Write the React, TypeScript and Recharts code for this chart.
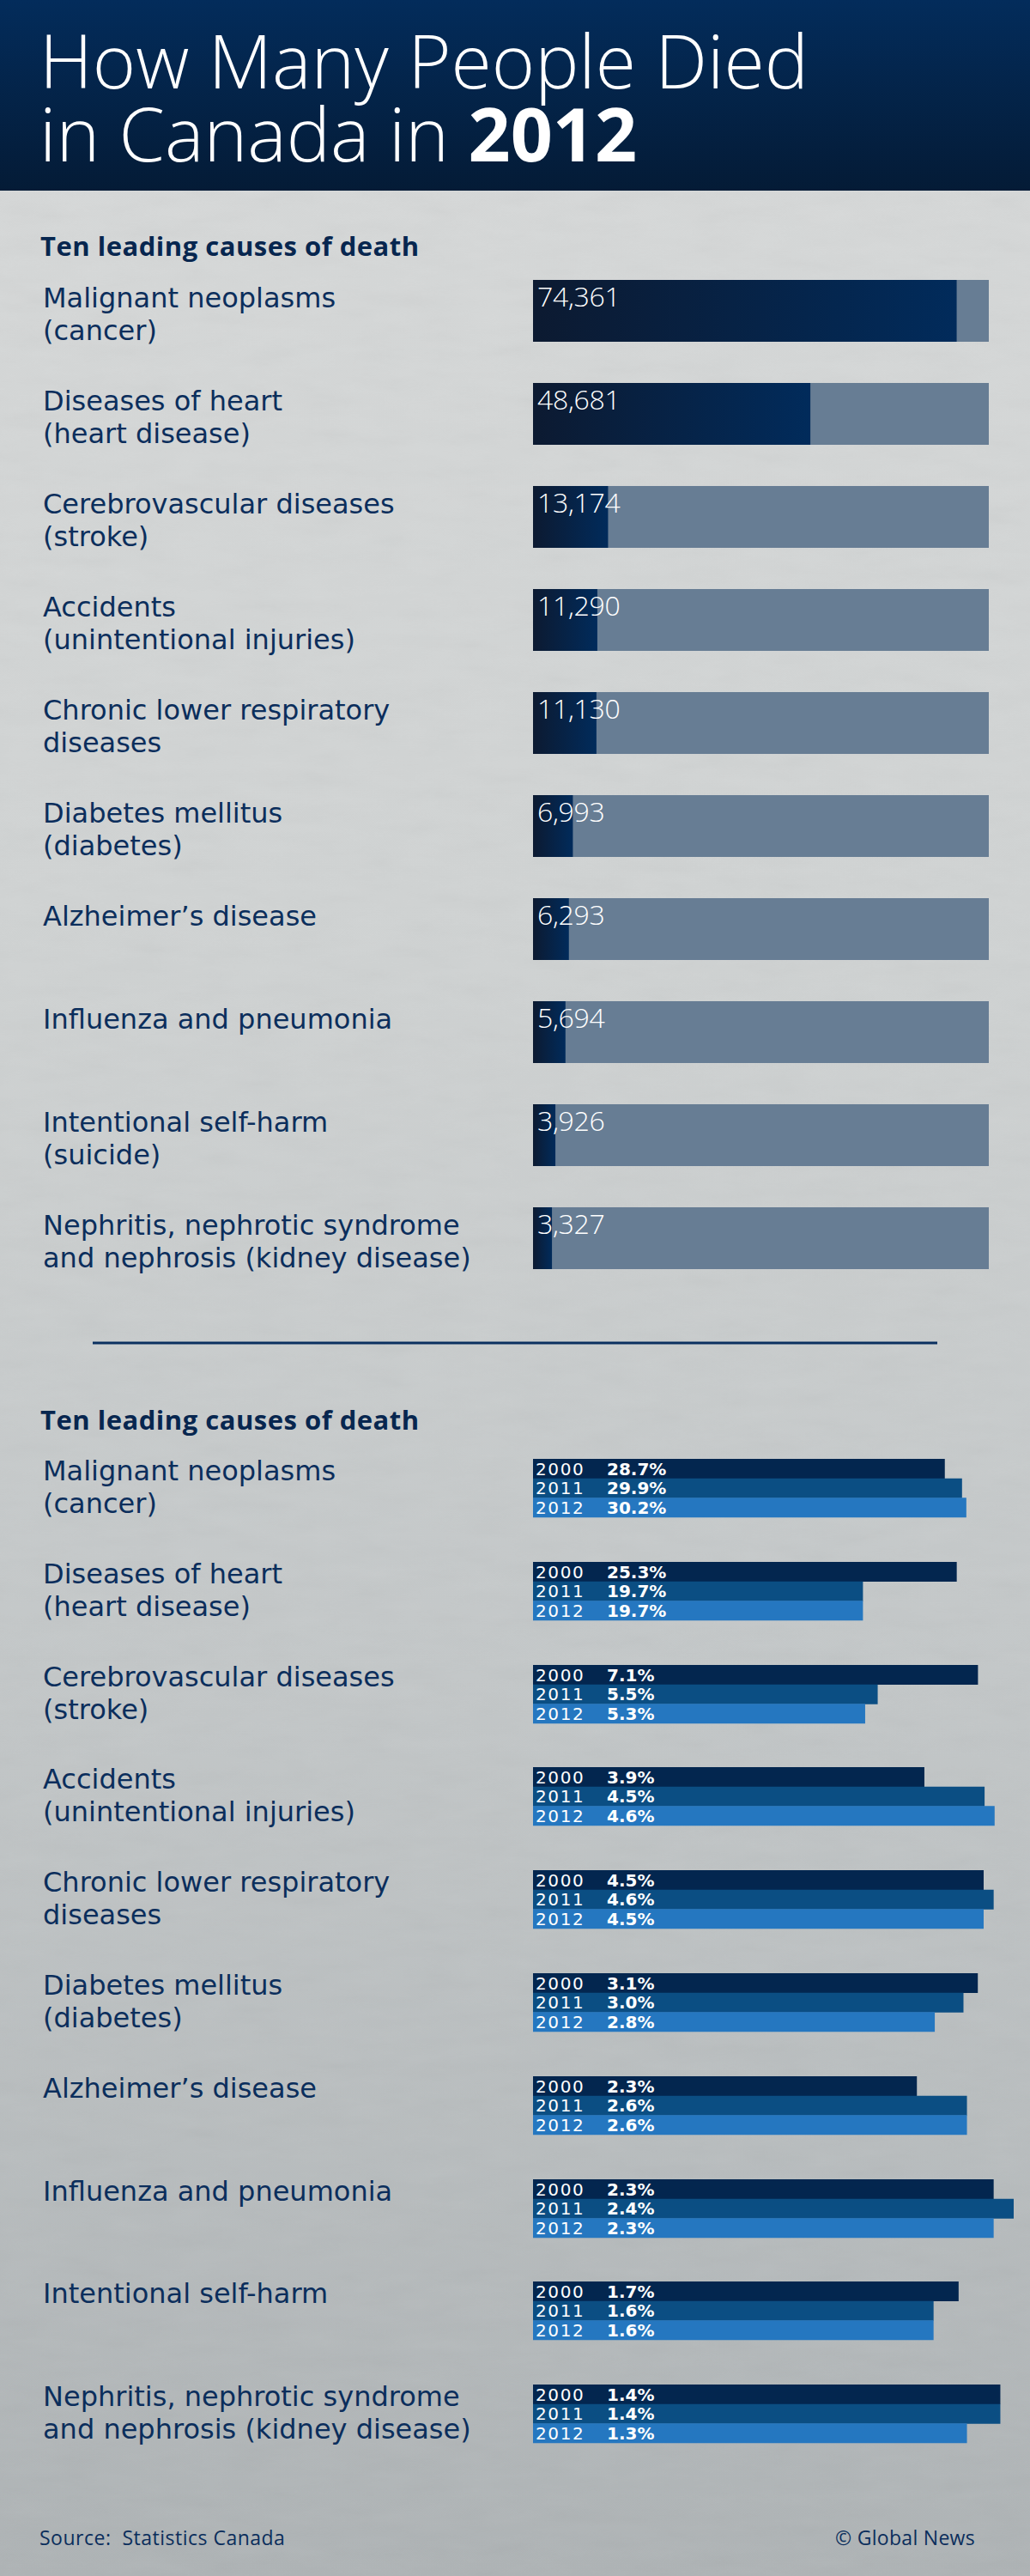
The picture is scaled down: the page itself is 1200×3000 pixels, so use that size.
import React from 'react';
import { BarChart, Bar, XAxis, YAxis, LabelList, Cell } from 'recharts';

// ---------- data ----------
const deathCauses = [
  'Malignant neoplasms|(cancer)',
  'Diseases of heart|(heart disease)',
  'Cerebrovascular diseases|(stroke)',
  'Accidents|(unintentional injuries)',
  'Chronic lower respiratory|diseases',
  'Diabetes mellitus|(diabetes)',
  'Alzheimer’s disease',
  'Influenza and pneumonia',
  'Intentional self-harm|(suicide)',
  'Nephritis, nephrotic syndrome|and nephrosis (kidney disease)',
];
const deaths2012 = [74361, 48681, 13174, 11290, 11130, 6993, 6293, 5694, 3926, 3327];
const deathsAxisMax = 80000;

const shareCauses = [
  'Malignant neoplasms|(cancer)',
  'Diseases of heart|(heart disease)',
  'Cerebrovascular diseases|(stroke)',
  'Accidents|(unintentional injuries)',
  'Chronic lower respiratory|diseases',
  'Diabetes mellitus|(diabetes)',
  'Alzheimer’s disease',
  'Influenza and pneumonia',
  'Intentional self-harm',
  'Nephritis, nephrotic syndrome|and nephrosis (kidney disease)',
];
const shareYears = ['2000', '2011', '2012'];
const share2000 = [28.7, 25.3, 7.1, 3.9, 4.5, 3.1, 2.3, 2.3, 1.7, 1.4];
const share2011 = [29.9, 19.7, 5.5, 4.5, 4.6, 3.0, 2.6, 2.4, 1.6, 1.4];
const share2012 = [30.2, 19.7, 5.3, 4.6, 4.5, 2.8, 2.6, 2.3, 1.6, 1.3];
// each group in the original is drawn on its own scale
const shareAxisMax = [33.5, 28.7, 7.67, 4.79, 4.8, 3.35, 2.88, 2.4, 1.92, 1.44];

const titleLine1 = 'How Many People Died';
const titleLine2 = 'in Canada in ';
const titleYear = '2012';
const sectionTitle = 'Ten leading causes of death';
const sourceText = 'Source:\u00A0\u00A0Statistics Canada';
const creditText = '© Global News';

// ---------- styles ----------
const FONT = '"Open Sans", "Noto Sans", sans-serif';
const LABEL_FONT = '"DejaVu Sans", "Open Sans", sans-serif';
const NAVY = '#0b2e5c';
const yearColors = ['#03264f', '#0b4e83', '#2577c0'];

const deathData = deathCauses.map((c, i) => ({ cause: c, deaths: deaths2012[i] }));
const shareSeries = [share2000, share2011, share2012];

const CauseTick = (props: any) => {
  const { y, payload } = props;
  const lines = String(payload.value).split('|');
  return (
    <text x={50} y={y - 4} fill={NAVY} fontSize={32} fontFamily={LABEL_FONT}>
      {lines.map((l, k) => (
        <tspan key={k} x={50} dy={k === 0 ? 0 : 38}>
          {l}
        </tspan>
      ))}
    </text>
  );
};

const DeathLabel = (props: any) => {
  const { x, y, value } = props;
  return (
    <text x={x + 5} y={y + 31} fill="#ffffff" fontSize={32} fontWeight={300} fontFamily={FONT} letterSpacing={-0.3}>
      {Number(value).toLocaleString('en-US')}
    </text>
  );
};

const ShareLabel = (props: any) => {
  const { x, y, value, index } = props;
  return (
    <text x={x + 3} y={y + 18.5} fill="#ffffff" fontSize={20} fontFamily={LABEL_FONT}>
      <tspan letterSpacing={1.6}>{shareYears[index]}</tspan>
      <tspan x={x + 86} fontWeight={700}>
        {Number(value).toFixed(1)}%
      </tspan>
    </text>
  );
};

const SHARE_TOP = 1699;
const SHARE_PITCH = 119.8;
const SHARE_PAD = 8;

export default function App() {
  return (
    <div
      style={{
        position: 'absolute',
        left: 0,
        top: 0,
        width: 1200,
        height: 3000,
        overflow: 'hidden',
        background: 'linear-gradient(180deg, #d7d9d9 0%, #d0d3d3 35%, #c3c7c8 65%, #aeb3b5 100%)',
        fontFamily: FONT,
      }}
    >
      <svg width={1200} height={3000} style={{ position: 'absolute', left: 0, top: 0 }}>
        <defs>
          <linearGradient id="titleGrad" x1="0" y1="0" x2="0" y2="1">
            <stop offset="0%" stopColor="#032c5b" />
            <stop offset="100%" stopColor="#041b36" />
          </linearGradient>
          <filter id="concrete">
            <feTurbulence type="fractalNoise" baseFrequency="0.015 0.05" numOctaves="4" seed="3" />
            <feColorMatrix type="saturate" values="0" />
          </filter>
        </defs>
        <rect x={0} y={222} width={1200} height={2778} filter="url(#concrete)" opacity={0.07} />
        <rect x={0} y={0} width={1200} height={222} fill="url(#titleGrad)" />
        <text x={46} y={103} fill="#ffffff" fontSize={86} fontWeight={300} fontFamily={FONT} letterSpacing={0}>
          <tspan x={46}>{titleLine1}</tspan>
          <tspan x={46} dy={85}>
            {titleLine2}
          </tspan>
          <tspan fontWeight={700}>{titleYear}</tspan>
        </text>

        <text x={47} y={298} fill="#07264f" fontSize={31} fontWeight={700} fontFamily={FONT} letterSpacing={0.5}>
          {sectionTitle}
        </text>

        <line x1={108} x2={1092} y1={1564} y2={1564} stroke="#0b3060" strokeWidth={3} />

        <text x={47} y={1665} fill="#07264f" fontSize={31} fontWeight={700} fontFamily={FONT} letterSpacing={0.5}>
          {sectionTitle}
        </text>

        {shareCauses.map((c, i) => (
          <text
            key={c}
            x={50}
            y={SHARE_TOP + i * SHARE_PITCH + 25}
            fill={NAVY}
            fontSize={32}
            fontFamily={LABEL_FONT}
          >
            {c.split('|').map((l, k) => (
              <tspan key={k} x={50} dy={k === 0 ? 0 : 38}>
                {l}
              </tspan>
            ))}
          </text>
        ))}

        <text x={46} y={2964} fill={NAVY} fontSize={23} fontFamily={FONT} letterSpacing={0.5}>
          {sourceText}
        </text>
        <text x={1136} y={2964} fill={NAVY} fontSize={23} fontFamily={FONT} letterSpacing={0.3} textAnchor="end">
          {creditText}
        </text>
      </svg>

      <div style={{ position: 'absolute', left: 0, top: 302 }}>
        <BarChart
          width={1200}
          height={1200}
          data={deathData}
          layout="vertical"
          margin={{ top: 0, right: 48, bottom: 0, left: 0 }}
        >
          <defs>
            <linearGradient id="deathGrad" x1="0" y1="0" x2="1" y2="0">
              <stop offset="0%" stopColor="#0c1a31" />
              <stop offset="100%" stopColor="#012b5b" />
            </linearGradient>
          </defs>
          <XAxis type="number" domain={[0, deathsAxisMax]} hide />
          <YAxis
            type="category"
            dataKey="cause"
            width={621}
            axisLine={false}
            tickLine={false}
            interval={0}
            tick={<CauseTick />}
          />
          <Bar
            dataKey="deaths"
            barSize={72}
            fill="url(#deathGrad)"
            background={{ fill: '#677d94' }}
            isAnimationActive={false}
          >
            <LabelList dataKey="deaths" content={<DeathLabel />} />
          </Bar>
        </BarChart>
      </div>

      {shareCauses.map((c, i) => {
        const data = shareYears.map((yr, j) => ({ year: yr, share: shareSeries[j][i] }));
        return (
          <div key={c} style={{ position: 'absolute', left: 0, top: SHARE_TOP + i * SHARE_PITCH - SHARE_PAD }}>
            <BarChart
              width={1200}
              height={68 + 2 * SHARE_PAD}
              data={data}
              layout="vertical"
              barCategoryGap={0}
              barGap={0}
              margin={{ top: SHARE_PAD, right: 19, bottom: SHARE_PAD, left: 621 }}
            >
              <XAxis type="number" domain={[0, shareAxisMax[i]]} hide allowDataOverflow />
              <YAxis type="category" dataKey="year" hide width={0} />
              <Bar dataKey="share" isAnimationActive={false}>
                {data.map((d, j) => (
                  <Cell key={d.year} fill={yearColors[j]} />
                ))}
                <LabelList dataKey="share" content={<ShareLabel />} />
              </Bar>
            </BarChart>
          </div>
        );
      })}
    </div>
  );
}
